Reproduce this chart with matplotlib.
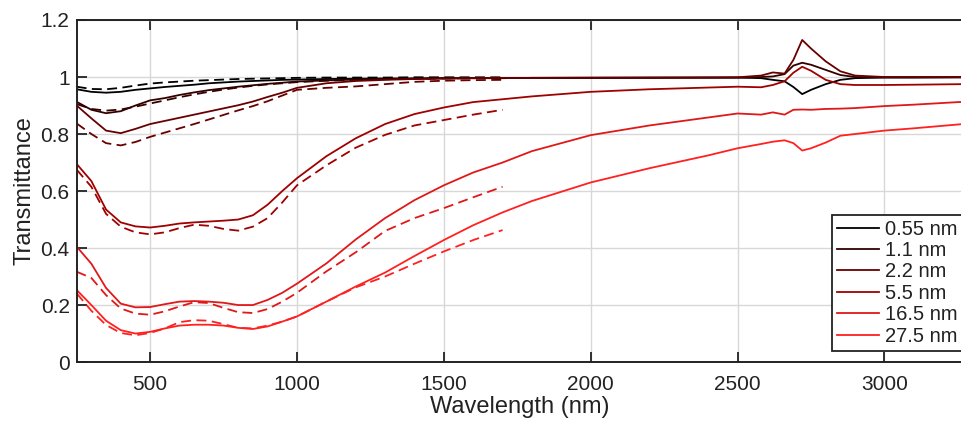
import matplotlib
matplotlib.use("Agg")
from matplotlib import pyplot as plt
from matplotlib.ticker import FuncFormatter

plt.rc("font", family=["Liberation Sans", "DejaVu Sans"])

# measured spectra (solid)
wl = [250, 300, 350, 400, 450, 500, 550, 600, 650, 700, 750, 800, 850, 900, 950,
      1000, 1100, 1200, 1300, 1400, 1500, 1600, 1700, 1800, 2000, 2200, 2400,
      2500, 2580, 2620, 2660, 2690, 2720, 2750, 2800, 2850, 2900, 3000, 3100, 3268]

t_055 = [0.957, 0.948, 0.945, 0.948, 0.955, 0.960, 0.965, 0.969, 0.973, 0.978, 0.981,
         0.984, 0.986, 0.988, 0.990, 0.991, 0.993, 0.994, 0.995, 0.995, 0.996, 0.996,
         0.996, 0.997, 0.997, 0.997, 0.998, 0.998, 0.996, 0.990, 0.985, 0.965, 0.940,
         0.955, 0.975, 0.990, 0.996, 0.998, 0.998, 0.999]
t_11 = [0.913, 0.885, 0.873, 0.880, 0.900, 0.918, 0.926, 0.937, 0.946, 0.954, 0.960,
        0.966, 0.971, 0.976, 0.980, 0.984, 0.988, 0.991, 0.993, 0.994, 0.995, 0.996,
        0.996, 0.997, 0.997, 0.998, 0.998, 0.998, 1.000, 1.002, 1.010, 1.040, 1.050,
        1.043, 1.025, 1.007, 1.000, 0.999, 0.999, 0.999]
t_22 = [0.900, 0.855, 0.812, 0.803, 0.818, 0.835, 0.846, 0.857, 0.868, 0.879, 0.890,
        0.901, 0.914, 0.930, 0.945, 0.962, 0.978, 0.986, 0.990, 0.993, 0.995, 0.996,
        0.997, 0.997, 0.998, 0.998, 0.998, 0.999, 1.005, 1.016, 1.012, 1.060, 1.130,
        1.100, 1.055, 1.020, 1.005, 1.000, 1.000, 1.000]
t_55 = [0.695, 0.635, 0.535, 0.490, 0.476, 0.472, 0.478, 0.486, 0.490, 0.493, 0.496,
        0.500, 0.515, 0.552, 0.600, 0.645, 0.722, 0.785, 0.835, 0.870, 0.893, 0.912,
        0.922, 0.932, 0.948, 0.957, 0.963, 0.966, 0.964, 0.972, 0.985, 1.015, 1.036,
        1.022, 0.990, 0.975, 0.972, 0.972, 0.973, 0.975]
t_165 = [0.405, 0.345, 0.260, 0.205, 0.192, 0.193, 0.203, 0.212, 0.214, 0.212, 0.208,
         0.200, 0.200, 0.218, 0.243, 0.275, 0.346, 0.430, 0.505, 0.568, 0.620, 0.665,
         0.700, 0.740, 0.796, 0.830, 0.858, 0.872, 0.868, 0.876, 0.868, 0.885, 0.886,
         0.885, 0.888, 0.889, 0.891, 0.898, 0.903, 0.913]
t_275 = [0.253, 0.200, 0.145, 0.112, 0.100, 0.106, 0.118, 0.128, 0.131, 0.131, 0.128,
         0.120, 0.116, 0.125, 0.142, 0.160, 0.212, 0.265, 0.314, 0.372, 0.428, 0.480,
         0.525, 0.565, 0.630, 0.680, 0.725, 0.750, 0.765, 0.773, 0.778, 0.768, 0.742,
         0.750, 0.770, 0.794, 0.800, 0.812, 0.820, 0.835]

# simulated spectra (dashed)
wl_sim = [250, 300, 350, 400, 450, 500, 550, 600, 650, 700, 750, 800, 850, 900, 950,
          1000, 1100, 1200, 1300, 1400, 1500, 1600, 1700]

s_055 = [0.966, 0.958, 0.957, 0.962, 0.970, 0.977, 0.981, 0.984, 0.987, 0.989, 0.991,
         0.993, 0.994, 0.995, 0.996, 0.997, 0.998, 0.998, 0.998, 0.999, 0.999, 0.999, 0.999]
s_11 = [0.905, 0.888, 0.882, 0.886, 0.896, 0.907, 0.918, 0.929, 0.939, 0.948, 0.956,
        0.963, 0.969, 0.974, 0.978, 0.982, 0.987, 0.990, 0.992, 0.994, 0.995, 0.996, 0.997]
s_22 = [0.837, 0.800, 0.768, 0.760, 0.772, 0.790, 0.805, 0.820, 0.835, 0.851, 0.867,
        0.883, 0.898, 0.915, 0.935, 0.955, 0.962, 0.967, 0.975, 0.983, 0.987, 0.989, 0.990]
s_55 = [0.675, 0.615, 0.520, 0.475, 0.455, 0.448, 0.455, 0.470, 0.482, 0.478, 0.467,
        0.461, 0.475, 0.505, 0.560, 0.620, 0.690, 0.752, 0.797, 0.830, 0.849, 0.868, 0.885]
s_165 = [0.317, 0.295, 0.235, 0.188, 0.170, 0.166, 0.178, 0.195, 0.210, 0.207, 0.190,
         0.175, 0.172, 0.186, 0.212, 0.243, 0.318, 0.385, 0.460, 0.505, 0.540, 0.578, 0.615]
s_275 = [0.241, 0.180, 0.130, 0.102, 0.094, 0.102, 0.118, 0.140, 0.147, 0.145, 0.133,
         0.120, 0.118, 0.128, 0.142, 0.160, 0.212, 0.262, 0.300, 0.345, 0.388, 0.428, 0.463]

labels = ["0.55 nm", "1.1 nm", "2.2 nm", "5.5 nm", "16.5 nm", "27.5 nm"]
colors = ["#000000", "#330000", "#680000", "#a00000", "#e01818", "#ff2020"]
measured = [t_055, t_11, t_22, t_55, t_165, t_275]
simulated = [s_055, s_11, s_22, s_55, s_165, s_275]

fig = plt.figure(figsize=(9.62, 4.21), dpi=100)
ax = fig.add_axes([0.0797, 0.140, 0.9215, 0.8125])

for sim, c in zip(simulated, colors):
    ax.plot(wl_sim, sim, color=c, lw=1.3, dashes=(5.5, 3))
for meas, c, lab in zip(measured, colors, labels):
    ax.plot(wl, meas, color=c, lw=1.3, label=lab)

ax.set_xlim(250, 3268)
ax.set_ylim(0, 1.2)
ax.set_xticks([500, 1000, 1500, 2000, 2500, 3000])
ax.set_yticks([0, 0.2, 0.4, 0.6, 0.8, 1.0, 1.2])
ax.yaxis.set_major_formatter(FuncFormatter(lambda v, p: "%g" % v))
ax.grid(True, color="#d8d8d8", lw=1)
ax.set_axisbelow(True)
ax.tick_params(direction="in", length=7, width=1.3, labelsize=15, top=True,
               colors="#222222", labelcolor="#222222", pad=5)
ax.tick_params(axis="x", pad=9)
for side in ["left", "bottom", "top"]:
    ax.spines[side].set_linewidth(1.4)
    ax.spines[side].set_color("#222222")
ax.spines["right"].set_visible(False)

ax.set_xlabel("Wavelength (nm)", fontsize=17, color="#222222", labelpad=2)
ax.set_ylabel("Transmittance", fontsize=17, color="#222222", labelpad=4)

leg = ax.legend(loc="lower right", bbox_to_anchor=(1.0, 0.033), borderaxespad=0,
                fontsize=14.5, handlelength=2.1, handletextpad=0.3, labelspacing=0.12,
                borderpad=0.25, fancybox=False, framealpha=1)
leg.get_frame().set_edgecolor("#222222")
leg.get_frame().set_linewidth(1.3)
for t in leg.get_texts():
    t.set_color("#222222")

fig.savefig("out.png", dpi=100)
